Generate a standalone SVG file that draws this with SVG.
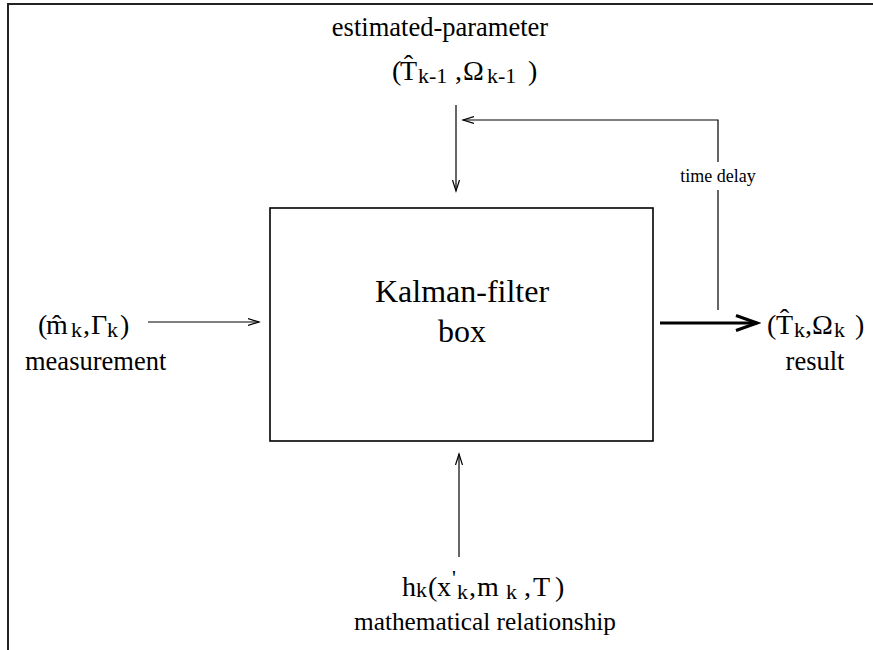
<svg xmlns="http://www.w3.org/2000/svg" width="873" height="650" viewBox="0 0 873 650">
<style>
text{font-family:"Liberation Serif","Times New Roman",serif;fill:#000}
.lbl{font-size:26.5px}
.f{font-size:28px}
.sub{font-size:22px}
.big{font-size:32px}
.small{font-size:18px}
.ln{fill:none;stroke:#000;stroke-width:1.2}
.bold{fill:none;stroke:#000;stroke-width:3}
</style>
<defs>
<marker id="ah" markerUnits="userSpaceOnUse" markerWidth="14" markerHeight="10" refX="11" refY="5" orient="auto" viewBox="0 0 14 10">
<path d="M0,1.5 L11,5 L0,8.5" fill="none" stroke="#000" stroke-width="1.2"/>
</marker>
<marker id="ahb" markerUnits="userSpaceOnUse" markerWidth="26" markerHeight="20" refX="22" refY="10" orient="auto" viewBox="0 0 26 20">
<path d="M1,2.5 L22,10 L1,17.5" fill="none" stroke="#000" stroke-width="3"/>
</marker>
</defs>
<rect width="873" height="650" fill="#fff"/>
<g id="frame">
<path d="M8,650 V4 H873" fill="none" stroke="#222" stroke-width="2"/>
</g>
<g id="kalman-box">
<rect x="270" y="208" width="383" height="233" fill="#fff" stroke="#000" stroke-width="1.6"/>
<text class="big" x="462" y="302" text-anchor="middle">Kalman-filter</text>
<text class="big" x="462" y="342" text-anchor="middle">box</text>
</g>
<g id="estimated-parameter">
<text class="lbl" x="440" y="36" text-anchor="middle">estimated-parameter</text>
<text class="f"><tspan x="392" y="80">(</tspan><tspan x="400">T̂</tspan><tspan class="sub" x="418" y="83">k-1</tspan><tspan x="455" y="80">,</tspan><tspan x="463">Ω</tspan><tspan class="sub" x="487" y="83">k-1</tspan><tspan x="528" y="80">)</tspan></text>
</g>
<g id="measurement">
<text class="f"><tspan x="38" y="334">(</tspan><tspan x="46">m̂</tspan><tspan class="sub" x="71" y="337">k</tspan><tspan x="83" y="334">,</tspan><tspan x="91">Γ</tspan><tspan class="sub" x="107" y="337">k</tspan><tspan x="120" y="334">)</tspan></text>
<text class="lbl" x="25" y="370">measurement</text>
</g>
<g id="result">
<text class="f"><tspan x="767" y="334">(</tspan><tspan x="776">T̂</tspan><tspan class="sub" x="794" y="337">k</tspan><tspan x="805" y="334">,</tspan><tspan x="812">Ω</tspan><tspan class="sub" x="834" y="337">k</tspan><tspan x="855" y="334">)</tspan></text>
<text class="lbl" x="815" y="370" text-anchor="middle">result</text>
</g>
<g id="relationship">
<text class="f"><tspan x="402" y="596">h</tspan><tspan class="sub" x="416" y="597">k</tspan><tspan x="428" y="596">(</tspan><tspan x="437">x</tspan><tspan class="sub" x="452" y="585">'</tspan><tspan class="sub" x="457" y="599">k</tspan><tspan x="469" y="596">,</tspan><tspan x="477">m</tspan><tspan class="sub" x="506" y="599">k</tspan><tspan x="524" y="596">,</tspan><tspan x="533">T</tspan><tspan x="555">)</tspan></text>
<text class="lbl" x="485" y="630" text-anchor="middle" style="font-size:25.3px">mathematical relationship</text>
</g>
<g id="time-delay">
<text class="small" x="718" y="182" text-anchor="middle">time delay</text>
</g>
<g id="connectors">
<path class="ln" d="M456,105 V191" marker-end="url(#ah)"/>
<path class="ln" d="M718,310 V190"/>
<path class="ln" d="M718,162 V120 H463" marker-end="url(#ah)"/>
<path class="ln" d="M148,322 H259" marker-end="url(#ah)"/>
<path class="ln" d="M459,557 V454" marker-end="url(#ah)"/>
<path class="bold" d="M660,323 H757" marker-end="url(#ahb)"/>
</g>
</svg>
